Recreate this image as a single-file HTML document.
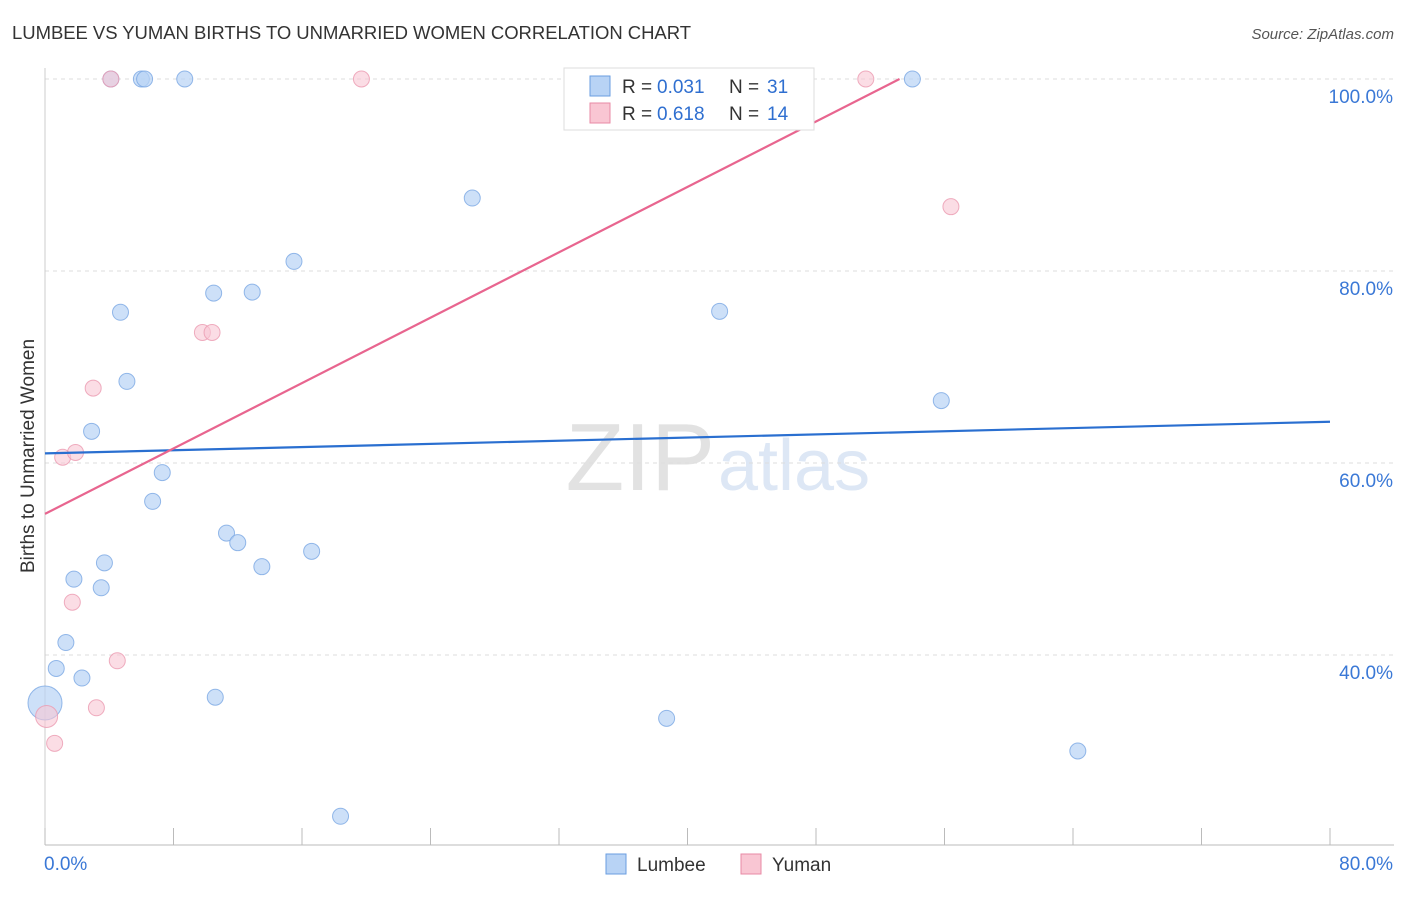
<!DOCTYPE html>
<html><head><meta charset="utf-8"><style>
body{margin:0;background:#fff;font-family:"Liberation Sans",sans-serif;}
svg text{font-family:"Liberation Sans",sans-serif;}
</style></head><body>
<svg id="c" width="1406" height="892">
<text x="12" y="39" font-size="18.5" fill="#333" textLength="679">LUMBEE VS YUMAN BIRTHS TO UNMARRIED WOMEN CORRELATION CHART</text>
<text x="1394" y="39" font-size="15" fill="#555" font-style="italic" text-anchor="end">Source: ZipAtlas.com</text>
<text x="715" y="490" font-size="96" fill="#e2e2e2" text-anchor="end" font-family="Liberation Serif">ZIP</text>
<text x="718" y="490" font-size="72" fill="#dde7f5">atlas</text>
<text transform="translate(34,456) rotate(-90)" font-size="19" fill="#333" text-anchor="middle">Births to Unmarried Women</text>
<g id="grid"></g><g id="marks"></g>
<g>
<rect x="564" y="68" width="250" height="62" fill="#fff" stroke="#ddd"/>
<rect x="590" y="76" width="20" height="20" fill="#b8d3f5" stroke="#6a9ee0"/>
<text x="622" y="93" font-size="19" fill="#333">R =</text>
<text x="657" y="93" font-size="19" fill="#2f6fd0">0.031</text>
<text x="729" y="93" font-size="19" fill="#333">N =</text>
<text x="767" y="93" font-size="19" fill="#2f6fd0">31</text>
<rect x="590" y="103" width="20" height="20" fill="#f9c6d3" stroke="#e88aa4"/>
<text x="622" y="120" font-size="19" fill="#333">R =</text>
<text x="657" y="120" font-size="19" fill="#2f6fd0">0.618</text>
<text x="729" y="120" font-size="19" fill="#333">N =</text>
<text x="767" y="120" font-size="19" fill="#2f6fd0">14</text>
</g>
<g>
<rect x="606" y="854" width="20" height="20" fill="#b8d3f5" stroke="#6a9ee0"/>
<text x="637" y="871" font-size="19" fill="#333">Lumbee</text>
<rect x="741" y="854" width="20" height="20" fill="#f9c6d3" stroke="#e88aa4"/>
<text x="772" y="871" font-size="19" fill="#333">Yuman</text>
</g>
</svg>
<script>
const lumbeeX=[4.1,6.0,6.2,8.7,54.0,26.6,15.5,10.5,12.9,4.7,42.0,5.1,55.8,2.9,7.3,6.7,11.3,12.0,16.6,13.5,3.7,1.8,3.5,1.3,0.7,2.3,0,10.6,38.7,64.3,18.4];
const lumbeeY=[100,100,100,100,100,87.6,81.0,77.7,77.8,75.7,75.8,68.5,66.5,63.3,59.0,56.0,52.7,51.7,50.8,49.2,49.6,47.9,47.0,41.3,38.6,37.6,35.0,35.6,33.4,30.0,23.2];
const yumanX=[4.1,19.7,51.1,56.4,9.8,10.4,3.0,1.1,1.9,1.7,4.5,3.2,0.1,0.6];
const yumanY=[100,100,100,86.7,73.6,73.6,67.8,60.6,61.1,45.5,39.4,34.5,33.6,30.8];
const lumbeeTrend=[[0,61.0],[80,64.3]];
const yumanTrend=[[0,54.7],[53.2,100]];
const yTicks=[100,80,60,40];
const xTickLabels=["0.0%","80.0%"];
const NS="http://www.w3.org/2000/svg";
const sx=v=>45+v*(1285/80), sy=v=>79+(100-v)*9.6;
function mk(tag,attrs,parent){const e=document.createElementNS(NS,tag);for(const k in attrs)e.setAttribute(k,attrs[k]);parent.appendChild(e);return e;}
const g=document.getElementById('grid'),m=document.getElementById('marks');
yTicks.forEach(t=>{const l=mk('line',{x1:45,x2:1394,y1:sy(t),y2:sy(t),stroke:'#ddd','stroke-dasharray':'4,4'},g);


const tx=mk('text',{x:1393,y:sy(t)+24,'font-size':19,fill:'#3a78d6','text-anchor':'end'},g);tx.textContent=t.toFixed(1)+'%';

});
const ax=mk('line',{x1:45,x2:1394,y1:845,y2:845,stroke:'#bbb'},g);


const ay=mk('line',{x1:45,x2:45,y1:68,y2:845,stroke:'#ccc'},g);


for(let i=0;i<=10;i++){const t=mk('line',{x1:sx(i*8),x2:sx(i*8),y1:828,y2:845,stroke:'#bbb'},g);

}
const xl0=mk('text',{x:44,y:870,'font-size':19,fill:'#3a78d6'},g);xl0.textContent=xTickLabels[0];


const xl1=mk('text',{x:1393,y:870,'font-size':19,fill:'#3a78d6','text-anchor':'end'},g);xl1.textContent=xTickLabels[1];


lumbeeX.forEach((x,i)=>{const c=mk('circle',{cx:sx(x),cy:sy(lumbeeY[i]),r:(x===0?17:8),fill:'#b8d3f5','fill-opacity':0.7,stroke:'#7aa8e4','stroke-opacity':0.8},m);

});
yumanX.forEach((x,i)=>{const c=mk('circle',{cx:sx(x),cy:sy(yumanY[i]),r:(i===12?11:8),fill:'#f9c6d3','fill-opacity':0.6,stroke:'#eb9ab0','stroke-opacity':0.8},m);

});
const lt=mk('line',{x1:sx(lumbeeTrend[0][0]),y1:sy(lumbeeTrend[0][1]),x2:sx(lumbeeTrend[1][0]),y2:sy(lumbeeTrend[1][1]),stroke:'#2a6fd0','stroke-width':2.2},m);


const yt=mk('line',{x1:sx(yumanTrend[0][0]),y1:sy(yumanTrend[0][1]),x2:sx(yumanTrend[1][0]),y2:sy(yumanTrend[1][1]),stroke:'#e8658f','stroke-width':2.2},m);


</script>
</body></html>
